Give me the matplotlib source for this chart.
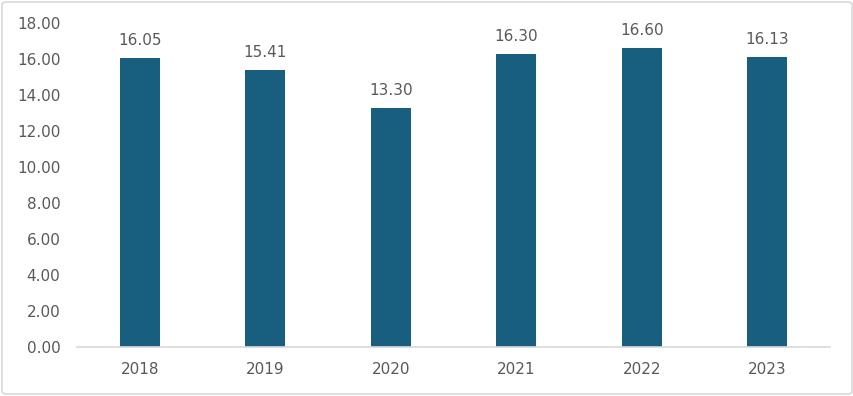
import matplotlib
matplotlib.use("Agg")
import matplotlib.pyplot as plt
from matplotlib.patches import FancyBboxPatch

years = ["2018", "2019", "2020", "2021", "2022", "2023"]
values = [16.05, 15.41, 13.30, 16.30, 16.60, 16.13]
yticks = [0, 2, 4, 6, 8, 10, 12, 14, 16, 18]

plt.rcParams['font.family'] = ['DejaVu Sans']
txt = '#595959'

fig = plt.figure(figsize=(8.54, 3.96), dpi=100)
ax = fig.add_axes([77/854, 49/396, 753/854, 324/396])

x = range(len(years))
ax.bar(x, values, width=0.32, color='#175E7F')
for xi, v in zip(x, values):
    ax.annotate(f"{v:.2f}", (xi, v), xytext=(0, 7), textcoords='offset points',
                ha='center', va='bottom', fontsize=11, color=txt)

ax.set_xlim(-0.5, len(years) - 0.5)
ax.set_ylim(0, 18)
ax.set_yticks(yticks)
ax.set_yticklabels([f"{t:.2f}" for t in yticks])
ax.set_xticks(list(x))
ax.set_xticklabels(years)
ax.tick_params(axis='both', length=0, labelsize=11, colors=txt)
ax.tick_params(axis='y', pad=12)
ax.tick_params(axis='x', pad=11)
for s in ['top', 'right', 'left']:
    ax.spines[s].set_visible(False)
ax.spines['bottom'].set_color('#D9D9D9')
ax.spines['bottom'].set_linewidth(1.2)

border = FancyBboxPatch((2/854, 2/396), 850/854, 392/396,
                        boxstyle="round,pad=0,rounding_size=0.006",
                        transform=fig.transFigure, fill=False,
                        edgecolor='#D9D9D9', linewidth=1.2)
fig.patches.append(border)

fig.savefig("out.png", dpi=100)
